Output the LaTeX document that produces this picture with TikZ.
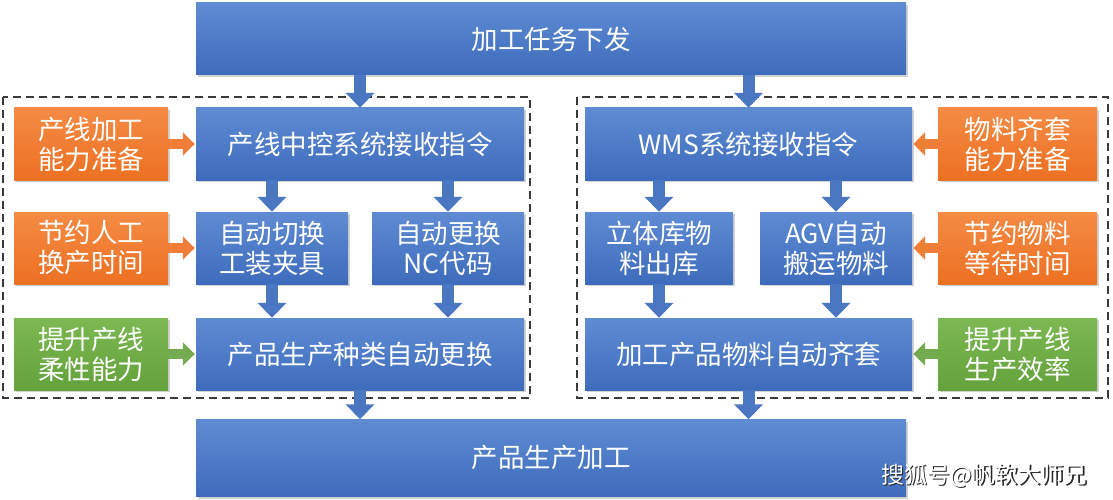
\documentclass[tikz,border=0pt]{standalone}
\usepackage{fontspec}
\newfontfamily\cjk{Noto Sans CJK SC}
\usetikzlibrary{shadows,arrows.meta}
\definecolor{bluetop}{HTML}{5F8BD3}
\definecolor{bluebot}{HTML}{3E6CBC}
\definecolor{arrowblue}{HTML}{4A76C2}
\definecolor{orgtop}{HTML}{F58B45}
\definecolor{orgbot}{HTML}{EC7022}
\definecolor{grntop}{HTML}{7DB852}
\definecolor{grnbot}{HTML}{64A23C}
\definecolor{dashgray}{HTML}{3A3A3A}
\tikzset{
  box/.style={minimum height=72pt, inner sep=0pt, align=center, text=white,
    font=\cjk\fontsize{26.5pt}{30pt}\selectfont,
    drop shadow={shadow xshift=1.5pt, shadow yshift=-2pt, opacity=0.35}},
  bluebox/.style={box, top color=bluetop, bottom color=bluebot},
  orgbox/.style={box, top color=orgtop, bottom color=orgbot, minimum width=154pt},
  grnbox/.style={box, top color=grntop, bottom color=grnbot, minimum width=154pt},
  downarrow/.style={draw=arrowblue, line width=12pt, -{Triangle[width=28pt,length=15pt]}},
  orgarrow/.style={draw=orgbot!90!white, line width=10pt, -{Triangle[width=23pt,length=12pt]}, shorten >=1pt},
  grnarrow/.style={draw=grnbot!90!white, line width=10pt, -{Triangle[width=23pt,length=12pt]}, shorten >=1pt},
  groupbox/.style={draw=dashgray, line width=1.1pt, dash pattern=on 8pt off 5pt},
  wmark/.style={font=\cjk\fontsize{23pt}{26pt}\selectfont, anchor=east, inner sep=0pt}
}
\begin{document}
\begin{tikzpicture}[x=1pt,y=-1pt]
\useasboundingbox[fill=white] (0,0) rectangle (1113,500);
% groups
\draw[groupbox] (3,97) rectangle (530,398);
\draw[groupbox] (577,97) rectangle (1108,398);
% top and bottom
\node[bluebox, minimum width=710pt, minimum height=72pt] (top) at (551,39) {加工任务下发};
\node[bluebox, minimum width=710pt, minimum height=77pt] (bot) at (551,458) {产品生产加工};
% left side
\node[orgbox] (lo1) at (91,144) {产线加工\\能力准备};
\node[bluebox, minimum width=328pt] (l1) at (360,144) {产线中控系统接收指令};
\node[orgbox] (lo2) at (91,248) {节约人工\\换产时间};
\node[bluebox, minimum width=152pt] (l21) at (272,248) {自动切换\\工装夹具};
\node[bluebox, minimum width=152pt] (l22) at (448,248) {自动更换\\NC代码};
\node[grnbox] (lg3) at (91,354) {提升产线\\柔性能力};
\node[bluebox, minimum width=328pt] (l3) at (360,354) {产品生产种类自动更换};
% right side
\node[bluebox, minimum width=327pt] (r1) at (748.5,144) {WMS系统接收指令};
\node[orgbox, minimum width=159pt] (ro1) at (1017.5,144) {物料齐套\\能力准备};
\node[bluebox, minimum width=148pt] (r21) at (659,248) {立体库物\\料出库};
\node[bluebox, minimum width=152pt] (r22) at (836,248) {AGV自动\\搬运物料};
\node[orgbox, minimum width=159pt] (ro2) at (1017.5,248) {节约物料\\等待时间};
\node[bluebox, minimum width=327pt] (r3) at (748.5,354) {加工产品物料自动齐套};
\node[grnbox, minimum width=159pt] (rg3) at (1017.5,354) {提升产线\\生产效率};
% blue arrows
\draw[downarrow] (top.south -| l1.north) -- (l1.north);
\draw[downarrow] (top.south -| r1.north) -- (r1.north);
\draw[downarrow] (l1.south -| l21.north) -- (l21.north);
\draw[downarrow] (l1.south -| l22.north) -- (l22.north);
\draw[downarrow] (l21.south) -- (l3.north -| l21.south);
\draw[downarrow] (l22.south) -- (l3.north -| l22.south);
\draw[downarrow] (r1.south -| r21.north) -- (r21.north);
\draw[downarrow] (r1.south -| r22.north) -- (r22.north);
\draw[downarrow] (r21.south) -- (r3.north -| r21.south);
\draw[downarrow] (r22.south) -- (r3.north -| r22.south);
\draw[downarrow] (l3.south) -- (bot.north -| l3.south);
\draw[downarrow] (r3.south) -- (bot.north -| r3.south);
% side arrows
\draw[orgarrow] (lo1.east) -- (l1.west);
\draw[orgarrow] (lo2.east) -- (l21.west);
\draw[grnarrow] (lg3.east) -- (l3.west);
\draw[orgarrow] (ro1.west) -- (r1.east);
\draw[orgarrow] (ro2.west) -- (r22.east);
\draw[grnarrow] (rg3.west) -- (r3.east);
% watermark (white text with dark shadow)
\node[wmark, text=black!85] (wms) at (1088.2,477.2) {搜狐号@帆软大师兄};
\node[wmark, text=white] (wm) at (1087,476) {搜狐号@帆软大师兄};
\end{tikzpicture}
\end{document}
